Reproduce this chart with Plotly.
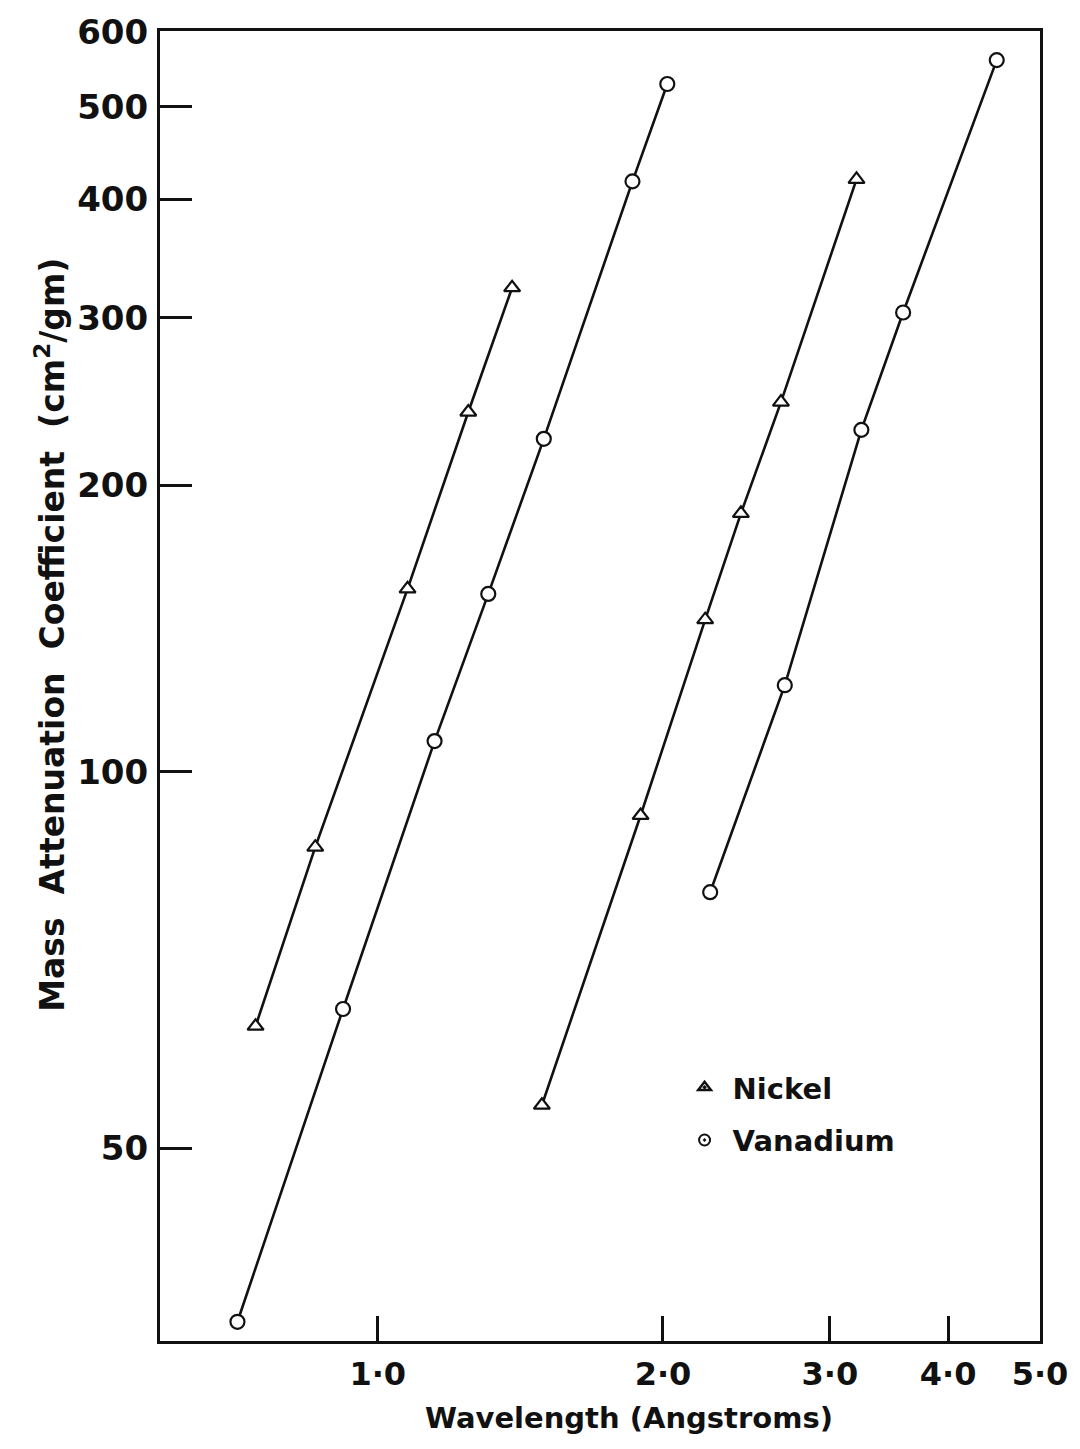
import plotly.graph_objects as go
import numpy as np

# Wavelength (Angstroms) and mass attenuation coefficient (cm^2/gm)
nickel_a_x = [0.743, 0.859, 1.075, 1.246, 1.386]
nickel_a_y = [54.0, 83.3, 155.7, 238.9, 322.8]

vanadium_a_x = [0.711, 0.919, 1.148, 1.308, 1.497, 1.857, 2.021]
vanadium_a_y = [26.4, 56.3, 107.7, 153.8, 223.9, 417.6, 528.6]

nickel_b_x = [1.490, 1.894, 2.216, 2.417, 2.664, 3.201]
nickel_b_y = [44.6, 89.95, 144.5, 186.9, 244.7, 419.6]

vanadium_b_x = [2.243, 2.689, 3.239, 3.585, 4.501]
vanadium_b_y = [74.7, 123.3, 228.8, 304.0, 560.1]

x_tick_vals = [1.0, 2.0, 3.0, 4.0, 5.0]
x_tick_text = ["1·0", "2·0", "3·0", "4·0", "5·0"]
# the scanned axis puts its "50" mark at this level of the log scale
y_tick_vals = [40.2, 100, 200, 300, 400, 500, 600]
y_tick_text = ["50", "100", "200", "300", "400", "500", "600"]

FONT = "DejaVu Sans"
BLACK = "#111111"

fig = go.Figure()

def add_series(xs, ys, symbol):
    fig.add_trace(go.Scatter(
        x=xs, y=ys, mode="lines+markers",
        line=dict(color=BLACK, width=2.6),
        marker=dict(symbol=symbol, size=14, color="white",
                    line=dict(color=BLACK, width=2.2)),
        showlegend=False, hoverinfo="x+y"))

add_series(nickel_a_x, nickel_a_y, "triangle-up")
add_series(vanadium_a_x, vanadium_a_y, "circle")
add_series(nickel_b_x, nickel_b_y, "triangle-up")
add_series(vanadium_b_x, vanadium_b_y, "circle")

# legend entries
fig.add_trace(go.Scatter(x=[None], y=[None], mode="markers", name="Nickel",
                         legendgroup="n",
                         marker=dict(symbol="triangle-up-open-dot", size=11,
                                     color=BLACK, line=dict(color=BLACK, width=2.5))))
fig.add_trace(go.Scatter(x=[None], y=[None], mode="markers", name="Vanadium",
                         legendgroup="v",
                         marker=dict(symbol="circle-open-dot", size=11,
                                     color=BLACK, line=dict(color=BLACK, width=2))))

L, R, T, B = 160, 35, 21, 108

fig.update_layout(
    width=1080, height=1449,
    margin=dict(l=L, r=R, t=T, b=B, pad=0),
    paper_bgcolor="white", plot_bgcolor="white",
    font=dict(family=FONT, color=BLACK, size=28, weight="bold"),
    showlegend=True,
    legend=dict(x=0.587, y=0.213, xanchor="left", yanchor="top",
                bgcolor="rgba(0,0,0,0)", borderwidth=0,
                font=dict(size=29, family=FONT, weight="bold", color=BLACK),
                tracegroupgap=12, itemwidth=46),
    annotations=[
        dict(text="Mass  Attenuation  Coefficient  (cm<sup>2</sup>/gm)",
             xref="paper", yref="paper", x=-0.124, y=0.539,
             xanchor="center", yanchor="middle", textangle=-90, showarrow=False,
             font=dict(size=33, family=FONT, weight="bold", color=BLACK)),
        dict(text="Wavelength (Angstroms)",
             xref="paper", yref="paper", x=0.533, y=-0.059,
             xanchor="center", yanchor="middle", showarrow=False,
             font=dict(size=29, family=FONT, weight="bold", color=BLACK)),
    ],
)

fig.update_xaxes(
    type="log", range=[np.log10(0.589), np.log10(5.0)],
    tickvals=x_tick_vals, ticktext=x_tick_text,
    ticks="inside", ticklen=25, tickwidth=2.5, tickcolor=BLACK,
    showline=True, linewidth=3, linecolor=BLACK, mirror=True,
    showgrid=False, zeroline=False,
    tickfont=dict(size=32, family=FONT, weight="bold", color=BLACK),
    ticklabelstandoff=3, ticklabeloverflow="allow",
)

fig.update_yaxes(
    type="log", range=[np.log10(25.2), np.log10(601)],
    tickvals=y_tick_vals, ticktext=y_tick_text,
    ticks="inside", ticklen=32, tickwidth=2.5, tickcolor=BLACK,
    showline=True, linewidth=3, linecolor=BLACK, mirror=True,
    showgrid=False, zeroline=False,
    tickfont=dict(size=34, family=FONT, weight="bold", color=BLACK),
    ticklabelstandoff=2, ticklabeloverflow="allow",
)

fig.write_html("out.html")
